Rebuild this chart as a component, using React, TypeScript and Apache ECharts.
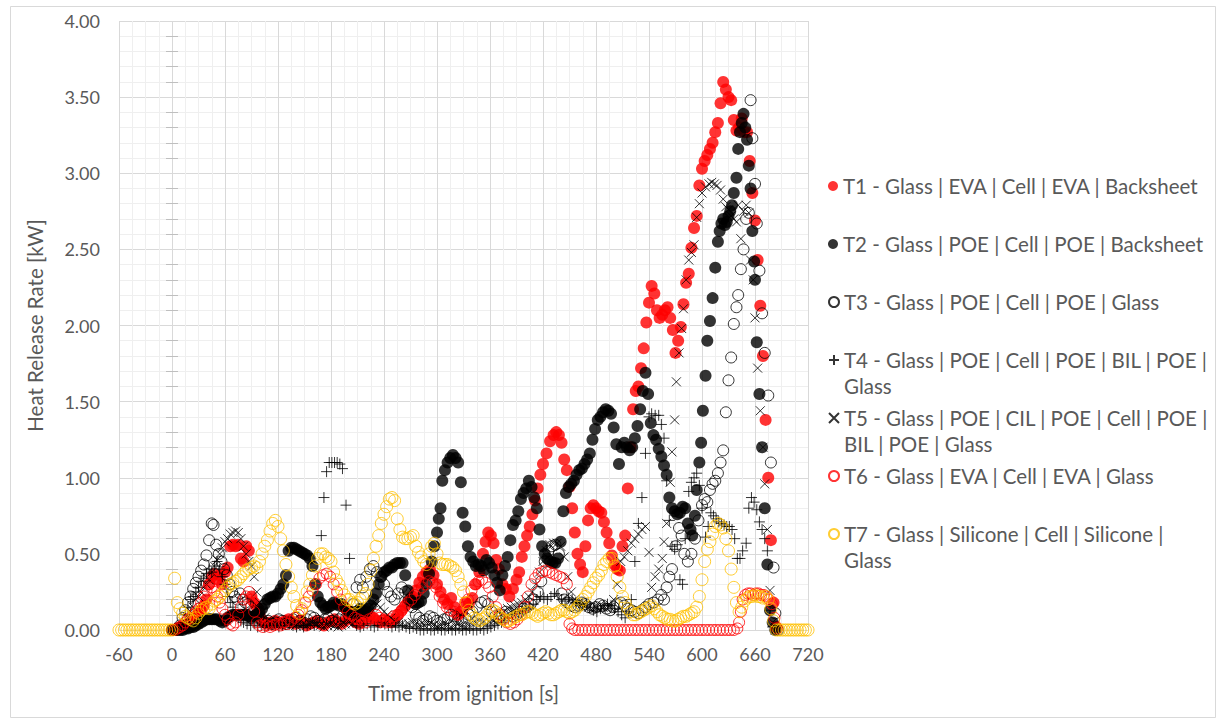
import React, { useEffect, useRef } from "react";
import * as echarts from "echarts";

type Pt = [number, number];

const FONT = "Lato, 'Open Sans', sans-serif";
const GREY_TEXT = "#595959";

// Axis ranges and ticks
const xMin = -60;
const xMax = 720;
const xStep = 60;
const yMin = 0;
const yMax = 4;
const yStep = 0.5;

const xTitle = "Time from ignition [s]";
const yTitle = "Heat Release Rate [kW]";

const seriesNames = [
  "T1 - Glass | EVA | Cell | EVA | Backsheet",
  "T2 - Glass | POE | Cell | POE | Backsheet",
  "T3 - Glass | POE | Cell | POE | Glass",
  "T4 - Glass | POE | Cell | POE | BIL | POE | Glass",
  "T5 - Glass | POE | CIL | POE | Cell | POE | BIL | POE | Glass",
  "T6 - Glass | EVA | Cell | EVA | Glass",
  "T7 - Glass | Silicone | Cell | Silicone | Glass",
];

// Legend text as it wraps in the legend column
const legendLabels = [
  "T1 - Glass | EVA | Cell | EVA | Backsheet",
  "T2 - Glass | POE | Cell | POE | Backsheet",
  "T3 - Glass | POE | Cell | POE | Glass",
  "T4 - Glass | POE | Cell | POE | BIL | POE |\nGlass",
  "T5 - Glass | POE | CIL | POE | Cell | POE |\nBIL | POE | Glass",
  "T6 - Glass | EVA | Cell | EVA | Glass",
  "T7 - Glass | Silicone | Cell | Silicone |\nGlass",
];

// [time s, HRR kW]
const t1: Pt[] = [
  [3,0],[6,0.01],[9,0.01],[12,0.02],[15,0.03],[18,0.04],[21,0.05],[24,0.07],[27,0.09],[30,0.11],[33,0.13],[36,0.16],[39,0.2],[42,0.3],[45,0.35],[48,0.37],[51,0.33],[54,0.36],[57,0.3],[60,0.38],[63,0.41],[66,0.55],[69,0.56],[72,0.55],[75,0.56],[78,0.47],[81,0.45],[84,0.55],[87,0.52],[90,0.22],[93,0.18],[96,0.15],[99,0.1],[102,0.06],[105,0.05],[108,0.04],[111,0.05],[114,0.04],[117,0.06],[120,0.05],[124,0.04],[128,0.06],[132,0.07],[136,0.05],[140,0.04],[144,0.06],[148,0.05],[152,0.03],[156,0.04],[160,0.05],[164,0.06],[168,0.04],[172,0.03],[176,0.05],[180,0.06],[184,0.07],[188,0.05],[192,0.04],[196,0.06],[200,0.08],[204,0.07],[208,0.05],[212,0.04],[216,0.06],[220,0.07],[224,0.09],[228,0.08],[232,0.06],[236,0.05],[240,0.07],[244,0.06],[248,0.05],[252,0.07],[256,0.1],[260,0.13],[264,0.16],[268,0.19],[272,0.22],[276,0.26],[280,0.31],[284,0.35],[288,0.38],[292,0.4],[296,0.36],[300,0.3],[304,0.25],[308,0.2],[312,0.17],[316,0.21],[320,0.15],[324,0.1],[328,0.12],[332,0.18],[336,0.17],[340,0.21],[344,0.3],[348,0.38],[352,0.5],[355,0.58],[358,0.64],[361,0.62],[364,0.57],[367,0.46],[370,0.4],[374,0.3],[378,0.27],[382,0.22],[386,0.27],[390,0.33],[393,0.38],[396,0.48],[399,0.55],[402,0.62],[405,0.68],[408,0.76],[411,0.85],[414,0.93],[417,1.02],[420,1.09],[424,1.16],[428,1.24],[432,1.28],[435,1.3],[438,1.28],[441,1.23],[444,1.12],[447,1.05],[450,0.94],[453,0.8],[456,0.64],[459,0.5],[462,0.43],[465,0.38],[468,0.55],[471,0.72],[474,0.8],[477,0.82],[480,0.8],[483,0.78],[486,0.77],[489,0.71],[492,0.64],[495,0.57],[498,0.49],[501,0.43],[504,0.4],[507,0.39],[510,0.55],[513,0.62],[516,0.93],[519,1.2],[522,1.45],[525,1.57],[528,1.6],[531,1.72],[534,1.85],[537,2.02],[540,2.15],[543,2.26],[546,2.21],[549,2.1],[552,2.05],[555,2.07],[558,2.1],[561,2.12],[564,2.05],[567,1.97],[570,1.82],[573,1.9],[576,1.99],[579,2.14],[582,2.28],[585,2.34],[588,2.51],[591,2.64],[594,2.72],[597,2.92],[600,3.03],[603,3.08],[606,3.12],[609,3.16],[612,3.2],[615,3.27],[618,3.33],[621,3.46],[624,3.6],[627,3.55],[630,3.5],[633,3.48],[636,3.35],[639,3.28],[642,3.3],[645,3.36],[648,3.27],[651,3.27],[654,3.08],[657,2.87],[660,2.69],[663,2.43],[666,2.13],[669,1.8],[672,1.38],[675,1.0],[678,0.59],[681,0.18],[684,0.02],
];

const t2: Pt[] = [
  [0,0],[3,0],[6,0],[9,0],[12,0],[15,0.01],[18,0.01],[21,0.02],[24,0.02],[27,0.03],[30,0.04],[33,0.05],[36,0.06],[39,0.07],[42,0.07],[45,0.07],[48,0.07],[51,0.07],[54,0.06],[57,0.05],[60,0.06],[63,0.08],[66,0.09],[69,0.1],[72,0.1],[75,0.1],[78,0.1],[81,0.1],[84,0.1],[87,0.09],[90,0.08],[93,0.09],[96,0.1],[99,0.12],[102,0.14],[105,0.17],[108,0.2],[111,0.21],[114,0.22],[117,0.22],[120,0.24],[123,0.27],[126,0.3],[129,0.36],[132,0.52],[135,0.54],[138,0.54],[141,0.53],[144,0.52],[147,0.51],[150,0.5],[153,0.49],[156,0.47],[159,0.42],[162,0.3],[165,0.22],[168,0.18],[171,0.16],[174,0.14],[177,0.15],[180,0.16],[183,0.18],[186,0.17],[189,0.16],[192,0.17],[195,0.15],[198,0.13],[201,0.12],[204,0.12],[207,0.11],[210,0.12],[213,0.14],[216,0.13],[219,0.12],[222,0.14],[225,0.16],[228,0.2],[231,0.24],[234,0.3],[237,0.35],[240,0.38],[243,0.39],[246,0.41],[249,0.41],[252,0.43],[255,0.44],[258,0.44],[261,0.44],[264,0.36],[267,0.26],[270,0.2],[273,0.18],[276,0.17],[279,0.18],[282,0.19],[285,0.24],[288,0.3],[291,0.37],[294,0.45],[297,0.55],[300,0.64],[302,0.73],[304,0.8],[306,0.98],[309,1.05],[312,1.1],[315,1.13],[318,1.15],[321,1.13],[324,1.1],[327,0.97],[329,0.77],[332,0.68],[335,0.55],[338,0.48],[341,0.45],[344,0.42],[347,0.43],[350,0.42],[353,0.39],[356,0.46],[359,0.44],[362,0.41],[365,0.36],[368,0.31],[371,0.26],[374,0.36],[377,0.42],[380,0.48],[383,0.59],[386,0.69],[389,0.72],[392,0.78],[395,0.86],[398,0.9],[401,0.93],[404,0.98],[407,0.94],[410,0.87],[413,0.8],[416,0.66],[419,0.55],[422,0.5],[425,0.47],[428,0.45],[431,0.44],[434,0.44],[437,0.47],[440,0.58],[443,0.78],[446,0.9],[449,0.94],[452,0.96],[455,0.98],[458,1.02],[461,1.05],[464,1.06],[467,1.09],[470,1.12],[473,1.16],[476,1.25],[479,1.32],[482,1.38],[485,1.4],[488,1.43],[491,1.45],[494,1.44],[497,1.42],[500,1.33],[503,1.22],[506,1.09],[509,1.2],[512,1.23],[515,1.2],[518,1.18],[521,1.2],[524,1.26],[527,1.34],[530,1.45],[533,1.57],[536,1.69],[539,1.55],[542,1.36],[545,1.28],[548,1.25],[551,1.19],[554,1.14],[557,1.08],[560,1.02],[563,0.87],[566,0.8],[569,0.78],[572,0.76],[575,0.77],[578,0.81],[581,0.8],[584,0.7],[587,0.66],[589,0.62],[592,0.75],[594,0.92],[597,1.1],[599,1.23],[601,1.44],[604,1.67],[606,1.9],[609,2.03],[612,2.18],[615,2.38],[618,2.55],[620,2.62],[622,2.67],[624,2.7],[626,2.66],[628,2.68],[630,2.72],[632,2.75],[634,2.79],[636,2.87],[639,2.97],[641,3.16],[643,3.27],[645,3.33],[647,3.39],[649,3.3],[651,3.22],[653,3.05],[655,2.9],[657,2.62],[659,2.42],[660,2.3],[662,1.89],[665,1.55],[668,1.2],[671,0.8],[674,0.43],[677,0.13],[680,0.05],[683,0],
];

const t3: Pt[] = [
  [0,0],[3,0],[6,0.01],[9,0.03],[12,0.08],[15,0.13],[18,0.18],[21,0.22],[24,0.27],[27,0.31],[30,0.35],[33,0.39],[36,0.43],[39,0.49],[42,0.59],[45,0.7],[47,0.69],[50,0.56],[53,0.5],[56,0.45],[59,0.4],[62,0.36],[65,0.3],[68,0.25],[71,0.22],[74,0.2],[77,0.24],[80,0.2],[83,0.18],[86,0.17],[89,0.15],[92,0.12],[95,0.1],[98,0.08],[101,0.07],[105,0.05],[109,0.06],[113,0.04],[117,0.05],[121,0.07],[125,0.06],[129,0.04],[133,0.05],[137,0.07],[141,0.08],[145,0.06],[149,0.05],[153,0.07],[157,0.09],[161,0.08],[165,0.06],[169,0.05],[173,0.07],[177,0.08],[181,0.06],[185,0.05],[189,0.07],[193,0.09],[197,0.08],[201,0.12],[205,0.17],[209,0.28],[213,0.33],[216,0.28],[220,0.35],[224,0.4],[228,0.42],[232,0.38],[236,0.35],[240,0.3],[244,0.25],[248,0.22],[252,0.2],[256,0.24],[260,0.28],[264,0.25],[268,0.2],[272,0.15],[276,0.1],[280,0.08],[284,0.06],[288,0.07],[292,0.09],[296,0.08],[300,0.06],[304,0.05],[308,0.07],[312,0.08],[316,0.1],[320,0.09],[324,0.07],[328,0.06],[332,0.08],[336,0.1],[340,0.12],[345,0.15],[350,0.18],[354,0.19],[358,0.17],[362,0.12],[366,0.09],[370,0.08],[374,0.1],[378,0.12],[382,0.11],[386,0.09],[390,0.1],[394,0.12],[398,0.14],[402,0.15],[406,0.17],[410,0.2],[414,0.25],[418,0.32],[422,0.45],[426,0.52],[430,0.55],[434,0.56],[438,0.5],[441,0.24],[444,0.2],[448,0.18],[452,0.16],[456,0.15],[460,0.16],[464,0.18],[468,0.17],[472,0.15],[476,0.14],[480,0.15],[484,0.17],[488,0.16],[492,0.14],[496,0.13],[500,0.15],[504,0.17],[508,0.18],[512,0.16],[516,0.14],[520,0.13],[524,0.12],[528,0.11],[532,0.13],[536,0.15],[540,0.17],[545,0.18],[550,0.2],[554,0.23],[557,0.2],[560,0.28],[563,0.35],[566,0.4],[570,0.55],[574,0.67],[577,0.62],[580,0.5],[584,0.45],[588,0.5],[592,0.6],[596,0.72],[600,0.82],[603,0.86],[606,0.84],[609,0.92],[612,0.96],[615,0.98],[618,1.03],[621,1.1],[624,1.18],[627,1.43],[630,1.64],[633,1.79],[636,2.01],[639,2.12],[641,2.2],[644,2.37],[647,2.5],[650,2.7],[653,2.74],[655,3.48],[657,3.23],[660,2.93],[662,2.67],[665,2.36],[668,2.08],[671,1.82],[675,1.54],[678,1.1],[681,0.41],[683,0.11],[686,0],
];

const t4: Pt[] = [
  [0,0],[3,0],[6,0.01],[9,0.02],[12,0.05],[15,0.1],[18,0.15],[21,0.2],[24,0.22],[27,0.25],[30,0.28],[33,0.32],[36,0.34],[39,0.37],[42,0.4],[45,0.38],[48,0.42],[51,0.45],[54,0.4],[57,0.35],[60,0.3],[63,0.22],[66,0.18],[69,0.15],[72,0.1],[75,0.08],[78,0.06],[81,0.05],[85,0.04],[89,0.03],[93,0.04],[97,0.02],[101,0.03],[105,0.02],[109,0.03],[113,0.04],[117,0.03],[121,0.02],[125,0.03],[129,0.05],[133,0.04],[137,0.03],[141,0.02],[145,0.03],[149,0.02],[153,0.03],[157,0.04],[161,0.03],[165,0.05],[169,0.62],[172,0.87],[175,1.04],[178,1.1],[181,1.1],[184,1.1],[187,1.1],[190,1.09],[193,1.06],[197,0.82],[201,0.47],[205,0.05],[209,0.03],[213,0.02],[217,0.03],[221,0.04],[225,0.03],[229,0.02],[233,0.03],[237,0.05],[241,0.04],[245,0.03],[249,0.02],[253,0.03],[257,0.02],[261,0.03],[265,0.02],[269,0.01],[273,0.02],[277,0.01],[281,0],[285,0],[289,0.01],[293,0],[297,0],[301,0.01],[305,0],[309,0],[313,0.01],[317,0],[321,0],[325,0.01],[329,0],[333,0],[337,0.01],[341,0],[345,0],[349,0.01],[353,0],[357,0.01],[361,0.02],[365,0.03],[369,0.04],[373,0.05],[377,0.06],[381,0.08],[385,0.1],[389,0.11],[393,0.12],[397,0.13],[401,0.14],[405,0.15],[409,0.17],[413,0.2],[417,0.22],[421,0.21],[425,0.2],[429,0.22],[433,0.24],[437,0.23],[441,0.2],[445,0.19],[449,0.21],[453,0.2],[457,0.18],[461,0.17],[465,0.16],[469,0.17],[473,0.15],[477,0.13],[481,0.12],[485,0.14],[489,0.16],[493,0.17],[497,0.16],[501,0.14],[505,0.12],[509,0.1],[513,0.08],[517,0.12],[520,0.2],[524,0.45],[528,0.7],[532,0.87],[536,1.16],[540,1.4],[543,1.42],[547,1.41],[551,1.41],[554,1.35],[557,1.26],[560,0.98],[563,0.72],[566,0.55],[569,0.53],[572,0.56],[575,0.33],[578,0.3],[581,0.6],[585,0.91],[588,0.97],[591,1.0],[594,1.03],[597,0.95],[600,0.8],[604,0.61],[607,0.68],[610,0.77],[613,0.75],[616,0.73],[619,0.71],[622,0.7],[625,0.69],[628,0.68],[631,0.68],[634,0.66],[637,0.6],[640,0.47],[643,0.47],[646,0.52],[650,0.57],[653,0.8],[656,0.87],[659,0.84],[662,0.79],[665,0.71],[668,0.66],[671,0.6],[674,0.52],[677,0.13],[680,0.02],[683,0],
];

const t5: Pt[] = [
  [0,0],[3,0],[6,0],[9,0.01],[12,0.02],[15,0.05],[18,0.08],[21,0.12],[24,0.15],[27,0.2],[30,0.22],[33,0.25],[36,0.28],[39,0.3],[42,0.33],[45,0.38],[48,0.42],[51,0.46],[54,0.5],[57,0.54],[60,0.58],[63,0.6],[66,0.63],[69,0.64],[72,0.65],[75,0.64],[78,0.6],[81,0.55],[84,0.5],[87,0.45],[90,0.42],[93,0.35],[96,0.25],[99,0.18],[102,0.12],[105,0.08],[108,0.06],[112,0.05],[116,0.04],[120,0.05],[124,0.03],[128,0.04],[132,0.05],[136,0.04],[140,0.03],[144,0.05],[148,0.04],[152,0.03],[156,0.04],[160,0.05],[164,0.04],[168,0.03],[172,0.02],[176,0.03],[180,0.04],[184,0.03],[188,0.02],[192,0.03],[196,0.04],[200,0.05],[204,0.04],[208,0.06],[212,0.08],[216,0.1],[220,0.12],[224,0.15],[228,0.18],[232,0.17],[236,0.15],[240,0.12],[244,0.1],[248,0.08],[252,0.06],[256,0.05],[260,0.04],[264,0.03],[268,0.04],[272,0.05],[276,0.04],[280,0.03],[284,0.04],[288,0.05],[292,0.04],[296,0.03],[300,0.02],[304,0.03],[308,0.04],[312,0.03],[316,0.02],[320,0.03],[324,0.04],[328,0.03],[332,0.02],[336,0.03],[340,0.04],[344,0.05],[348,0.06],[352,0.05],[356,0.04],[360,0.05],[364,0.06],[368,0.08],[372,0.1],[376,0.12],[380,0.14],[384,0.15],[388,0.16],[392,0.17],[396,0.18],[400,0.2],[404,0.22],[408,0.25],[412,0.3],[416,0.38],[420,0.45],[424,0.52],[428,0.56],[432,0.57],[436,0.57],[440,0.55],[444,0.48],[448,0.35],[452,0.25],[456,0.2],[460,0.18],[464,0.17],[468,0.16],[472,0.15],[476,0.14],[480,0.15],[484,0.16],[488,0.15],[492,0.14],[496,0.15],[500,0.2],[504,0.3],[508,0.45],[512,0.48],[516,0.52],[520,0.57],[524,0.6],[528,0.63],[532,0.66],[536,0.68],[540,0.51],[543,0.28],[547,0.35],[551,0.4],[555,0.47],[557,0.58],[560,0.7],[564,0.97],[566,1.17],[569,1.38],[571,1.63],[574,1.82],[577,1.98],[579,2.11],[582,2.3],[585,2.43],[588,2.48],[591,2.53],[594,2.71],[597,2.8],[600,2.87],[604,2.91],[608,2.93],[611,2.94],[614,2.93],[617,2.92],[621,2.89],[624,2.83],[627,2.78],[630,2.76],[633,2.72],[636,2.7],[639,2.68],[641,2.79],[644,2.57],[647,2.75],[650,2.79],[653,2.74],[655,2.43],[658,2.3],[660,2.05],[663,1.72],[666,1.44],[669,1.2],[671,0.96],[674,0.66],[677,0.26],[680,0.05],[683,0],
];

const t6: Pt[] = [
  [0,0],[3,0],[6,0.01],[9,0.02],[12,0.03],[15,0.05],[18,0.07],[21,0.08],[24,0.1],[27,0.12],[30,0.14],[33,0.18],[36,0.22],[39,0.26],[42,0.3],[45,0.28],[48,0.25],[51,0.22],[54,0.18],[57,0.14],[60,0.1],[63,0.07],[66,0.04],[69,0.03],[72,0.05],[75,0.1],[78,0.15],[81,0.2],[84,0.22],[87,0.25],[90,0.2],[93,0.12],[96,0.05],[99,0.03],[103,0.02],[107,0.03],[111,0.02],[115,0.03],[119,0.04],[123,0.03],[127,0.05],[131,0.04],[135,0.06],[139,0.08],[143,0.1],[147,0.13],[151,0.18],[155,0.22],[159,0.26],[163,0.3],[167,0.34],[171,0.36],[175,0.37],[179,0.35],[183,0.3],[187,0.25],[191,0.2],[195,0.15],[199,0.12],[203,0.1],[207,0.08],[211,0.07],[215,0.06],[219,0.05],[223,0.07],[227,0.08],[231,0.1],[235,0.08],[239,0.06],[243,0.05],[247,0.07],[251,0.09],[255,0.1],[259,0.12],[263,0.15],[267,0.18],[271,0.2],[275,0.23],[279,0.26],[283,0.28],[287,0.3],[291,0.32],[295,0.31],[299,0.28],[303,0.22],[307,0.18],[311,0.15],[315,0.13],[319,0.12],[323,0.1],[327,0.12],[331,0.15],[335,0.2],[339,0.26],[343,0.3],[347,0.32],[351,0.33],[355,0.31],[359,0.28],[363,0.22],[367,0.15],[371,0.1],[375,0.07],[379,0.05],[383,0.04],[387,0.05],[391,0.07],[395,0.1],[399,0.15],[403,0.22],[407,0.3],[411,0.34],[415,0.37],[419,0.38],[423,0.39],[427,0.38],[431,0.37],[435,0.36],[439,0.35],[443,0.34],[447,0.3],[450,0.04],[453,0.01],[456,0],[460,0],[464,0],[468,0],[472,0],[476,0],[480,0],[484,0],[488,0],[492,0],[496,0],[500,0],[504,0],[508,0],[512,0],[516,0],[520,0],[524,0],[528,0],[532,0],[536,0],[540,0],[544,0],[548,0],[552,0],[556,0],[560,0],[564,0],[568,0],[572,0],[576,0],[580,0],[584,0],[588,0],[592,0],[596,0],[600,0],[604,0],[608,0],[612,0],[616,0],[620,0],[624,0],[628,0],[632,0],[636,0],[640,0.01],[642,0.05],[644,0.12],[646,0.2],[649,0.23],[652,0.24],[655,0.24],[658,0.23],[661,0.24],[664,0.24],[667,0.23],[670,0.23],[673,0.22],[676,0.2],[679,0.17],[682,0.08],[685,0.01],
];

const t7: Pt[] = [
  [-60,0],[-57,0],[-54,0],[-51,0],[-48,0],[-45,0],[-42,0],[-39,0],[-36,0],[-33,0],[-30,0],[-27,0],[-24,0],[-21,0],[-18,0],[-15,0],[-12,0],[-9,0],[-6,0],[-3,0],[0,0],
  [3,0.34],[6,0.18],[9,0.14],[12,0.11],[15,0.09],[18,0.08],[21,0.07],[24,0.06],[27,0.08],[30,0.11],[33,0.13],[36,0.14],[39,0.15],[42,0.14],[45,0.17],[48,0.19],[51,0.2],[54,0.22],[57,0.24],[60,0.26],[63,0.28],[66,0.3],[69,0.31],[72,0.32],[75,0.33],[78,0.35],[81,0.37],[84,0.39],[87,0.4],[90,0.41],[93,0.42],[96,0.41],[99,0.45],[102,0.5],[105,0.55],[108,0.59],[111,0.65],[114,0.7],[117,0.72],[120,0.68],[123,0.6],[126,0.52],[129,0.43],[132,0.35],[135,0.28],[138,0.22],[141,0.16],[144,0.11],[147,0.14],[150,0.18],[153,0.25],[156,0.3],[159,0.36],[162,0.42],[165,0.47],[168,0.5],[171,0.5],[174,0.48],[177,0.47],[180,0.45],[183,0.38],[186,0.33],[189,0.3],[192,0.26],[195,0.23],[198,0.2],[201,0.2],[204,0.18],[207,0.17],[210,0.18],[213,0.2],[216,0.22],[219,0.24],[222,0.3],[225,0.39],[228,0.47],[231,0.55],[234,0.62],[237,0.7],[240,0.76],[243,0.81],[246,0.86],[249,0.87],[252,0.85],[255,0.73],[258,0.66],[261,0.61],[264,0.6],[267,0.6],[270,0.61],[273,0.62],[276,0.55],[279,0.51],[282,0.48],[285,0.45],[288,0.43],[291,0.5],[294,0.55],[297,0.57],[300,0.5],[303,0.44],[306,0.43],[309,0.43],[312,0.43],[315,0.42],[318,0.41],[321,0.39],[324,0.35],[327,0.3],[330,0.25],[333,0.18],[336,0.13],[339,0.1],[342,0.08],[345,0.07],[348,0.06],[351,0.07],[354,0.08],[357,0.1],[360,0.12],[363,0.13],[366,0.12],[369,0.1],[372,0.08],[375,0.07],[378,0.06],[381,0.06],[384,0.07],[387,0.08],[390,0.09],[393,0.1],[396,0.1],[399,0.11],[402,0.12],[405,0.12],[408,0.11],[411,0.1],[414,0.09],[417,0.1],[420,0.11],[423,0.12],[426,0.11],[429,0.1],[432,0.1],[435,0.11],[438,0.12],[441,0.13],[444,0.13],[447,0.12],[450,0.11],[453,0.12],[456,0.13],[459,0.15],[462,0.17],[465,0.2],[468,0.22],[471,0.25],[474,0.28],[477,0.31],[480,0.34],[483,0.36],[486,0.39],[489,0.43],[492,0.45],[495,0.47],[498,0.47],[501,0.42],[504,0.35],[507,0.28],[510,0.22],[513,0.18],[516,0.14],[519,0.12],[522,0.1],[525,0.1],[528,0.11],[531,0.12],[534,0.13],[537,0.14],[540,0.15],[543,0.16],[546,0.14],[549,0.12],[552,0.1],[555,0.09],[558,0.08],[561,0.07],[564,0.07],[567,0.06],[570,0.06],[573,0.07],[576,0.08],[579,0.09],[582,0.09],[585,0.1],[588,0.11],[591,0.12],[594,0.15],[597,0.22],[600,0.33],[603,0.45],[606,0.53],[609,0.58],[612,0.63],[615,0.68],[618,0.7],[621,0.69],[624,0.67],[627,0.6],[630,0.52],[633,0.4],[636,0.28],[639,0.18],[642,0.12],[645,0.15],[648,0.19],[651,0.21],[654,0.22],[657,0.22],[660,0.23],[663,0.22],[666,0.22],[669,0.21],[672,0.22],[675,0.2],[678,0.14],[681,0.06],
  [684,0],[687,0],[690,0],[693,0],[696,0],[699,0],[702,0],[705,0],[708,0],[711,0],[714,0],[717,0],[720,0],
];

const seriesData: Pt[][] = [t1, t2, t3, t4, t5, t6, t7];

// Marker styles
const PLUS = "path://M5,0L5,10M0,5L10,5";
const CROSS = "path://M0,0L10,10M10,0L0,10";
const CLEAR = "rgba(0,0,0,0)";

const markerStyles = [
  { symbol: "circle", symbolSize: 12, itemStyle: { color: "#ff0000" } },
  { symbol: "circle", symbolSize: 12, itemStyle: { color: "#000000" } },
  { symbol: "circle", symbolSize: 11, itemStyle: { color: CLEAR, borderColor: "#000000", borderWidth: 1 } },
  { symbol: PLUS, symbolSize: 11, itemStyle: { color: CLEAR, borderColor: "#000000", borderWidth: 1 } },
  { symbol: CROSS, symbolSize: 9, itemStyle: { color: CLEAR, borderColor: "#000000", borderWidth: 1 } },
  { symbol: "circle", symbolSize: 11, itemStyle: { color: CLEAR, borderColor: "#ff0000", borderWidth: 1 } },
  { symbol: "circle", symbolSize: 12, itemStyle: { color: CLEAR, borderColor: "#ffc000", borderWidth: 1 } },
];

// Vertical centre of each legend row's first line
const legendRowY = [186, 244, 302, 360, 418, 476, 534];

export default function App() {
  const ref = useRef<HTMLDivElement>(null);

  useEffect(() => {
    if (!ref.current) return;
    const chart = echarts.init(ref.current, null, { renderer: "svg" });

    const legendText = {
      fontFamily: FONT,
      fontSize: 20.5,
      color: GREY_TEXT,
      lineHeight: 26,
    };

    const option: any = {
      animation: false,
      backgroundColor: "#ffffff",
      textStyle: { fontFamily: FONT },
      graphic: [
        {
          type: "rect",
          left: 8,
          top: 4,
          shape: { width: 1205, height: 711 },
          style: { fill: "none", stroke: "#d9d9d9", lineWidth: 1 },
          silent: true,
          z: -10,
        },
      ],
      grid: { left: 119, right: 411, top: 21, bottom: 89, containLabel: false },
      xAxis: [
        {
          type: "value",
          min: xMin,
          max: xMax,
          interval: xStep,
          name: xTitle,
          nameLocation: "middle",
          nameGap: 52,
          nameTextStyle: { fontFamily: FONT, fontSize: 20.5, color: GREY_TEXT },
          axisLine: { show: false, onZero: false },
          axisTick: { show: false },
          axisLabel: { fontFamily: FONT, fontSize: 18, color: GREY_TEXT, margin: 15 },
          splitLine: { show: true, lineStyle: { color: "#d9d9d9", width: 1 } },
          minorTick: { show: false, splitNumber: 4 },
          minorSplitLine: { show: true, lineStyle: { color: "#efefef", width: 1 } },
        },
        {
          type: "value",
          min: xMin,
          max: xMax,
          interval: xStep,
          show: false,
        },
      ],
      yAxis: [
        {
          type: "value",
          min: yMin,
          max: yMax,
          interval: yStep,
          position: "left",
          name: yTitle,
          nameLocation: "middle",
          nameGap: 74,
          nameTextStyle: { fontFamily: FONT, fontSize: 20.5, color: GREY_TEXT },
          axisLine: { show: false, onZero: false },
          axisTick: { show: false },
          axisLabel: {
            fontFamily: FONT,
            fontSize: 18,
            color: GREY_TEXT,
            margin: 19,
            formatter: (v: number) => v.toFixed(2),
          },
          splitLine: { show: true, lineStyle: { color: "#d9d9d9", width: 1 } },
          minorTick: { show: false, splitNumber: 5 },
          minorSplitLine: { show: true, lineStyle: { color: "#efefef", width: 1 } },
        },
        // minor cross ticks where the vertical axis crosses t = 0
        {
          type: "value",
          min: yMin,
          max: yMax,
          interval: yStep,
          position: "left",
          axisLine: { show: false, onZero: true, onZeroAxisIndex: 0 },
          axisTick: { show: false },
          axisLabel: { show: false },
          splitLine: { show: false },
          minorTick: { show: true, splitNumber: 5, length: 6, lineStyle: { color: "#bfbfbf" } },
        },
        {
          type: "value",
          min: yMin,
          max: yMax,
          interval: yStep,
          position: "left",
          axisLine: { show: false, onZero: true, onZeroAxisIndex: 1 },
          axisTick: { show: false, inside: true },
          axisLabel: { show: false },
          splitLine: { show: false },
          minorTick: { show: true, splitNumber: 5, length: 6, lineStyle: { color: "#bfbfbf" } },
        },
      ],
      legend: seriesNames.map((name, i) => {
        const wrapped = legendLabels[i].includes("\n");
        return {
          data: [name],
          left: 828,
          top: legendRowY[i] - (wrapped ? 39 : 13),
          padding: 0,
          orient: "vertical",
          itemWidth: 10,
          itemHeight: 10,
          selectedMode: false,
          formatter: () => legendLabels[i],
          textStyle: wrapped
            ? { ...legendText, padding: [26, 0, 0, 0], rich: { w: {} } }
            : legendText,
        };
      }),
      series: seriesNames.map((name, i) => ({
        name,
        type: "scatter",
        xAxisIndex: 0,
        yAxisIndex: 0,
        data: seriesData[i],
        symbol: markerStyles[i].symbol,
        symbolSize: markerStyles[i].symbolSize,
        itemStyle: markerStyles[i].itemStyle,
        emphasis: { disabled: true },
        z: 2 + i,
      })),
    };

    chart.setOption(option);
    return () => chart.dispose();
  }, []);

  return (
    <div
      ref={ref}
      style={{ position: "absolute", left: 0, top: 0, width: 1219, height: 719, background: "#ffffff" }}
    />
  );
}
